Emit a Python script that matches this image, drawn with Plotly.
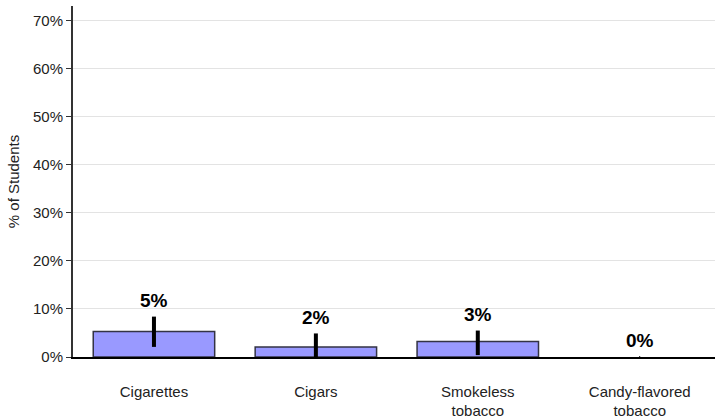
import plotly.graph_objects as go

categories = ['Cigarettes', 'Cigars', 'Smokeless<br>tobacco', 'Candy-flavored<br>tobacco']
values = [5.3, 2.1, 3.2, 0.0]
err_upper = [3.1, 2.8, 2.3, 0.2]
err_lower = [3.2, 2.1, 2.8, 0.2]
labels = ['5%', '2%', '3%', '0%']
y_ticks = [0, 10, 20, 30, 40, 50, 60, 70]
y_tick_text = ['0%', '10%', '20%', '30%', '40%', '50%', '60%', '70%']

font_family = 'Liberation Sans, Arial, sans-serif'

fig = go.Figure()
# one trace per bar so the empty bar can get a thin error mark and no outline
for i in range(len(categories)):
    empty = values[i] == 0
    fig.add_trace(go.Bar(
        x=[i],
        y=[values[i]],
        width=0.75,
        marker=dict(color='#9999ff', line=dict(color='#333344', width=0 if empty else 1.5)),
        error_y=dict(type='data', symmetric=False, array=[err_upper[i]], arrayminus=[err_lower[i]],
                     color='black', thickness=1 if empty else 4, width=0),
        hoverinfo='skip',
    ))

# percentage labels sit just above the top of each error bar
for i, lab in enumerate(labels):
    fig.add_annotation(x=i, y=values[i] + err_upper[i], text='<b>' + lab + '</b>',
                       showarrow=False, yshift=16,
                       font=dict(size=19, color='black', family=font_family))

fig.update_layout(
    width=715, height=419,
    plot_bgcolor='white',
    paper_bgcolor='white',
    margin=dict(t=6, b=62, l=73, r=0),
    showlegend=False,
    barmode='overlay',
    font=dict(family=font_family, size=15, color='#222'),
)
fig.update_xaxes(
    range=[-0.5, 3.465],
    tickvals=list(range(len(categories))),
    ticktext=categories,
    showline=True, linecolor='black', linewidth=1.5,
    showgrid=False, ticks='',
    ticklabelstandoff=20,
    tickfont=dict(size=15, color='#222'),
)
fig.update_yaxes(
    range=[0, 73],
    tickvals=y_ticks,
    ticktext=y_tick_text,
    showline=True, linecolor='#333', linewidth=2,
    showgrid=True, gridcolor='#e3e3e3', gridwidth=1,
    ticks='outside', ticklen=5, tickcolor='#333',
    zeroline=False,
    title=dict(text='% of Students', font=dict(size=15, color='#222'), standoff=10),
    tickfont=dict(size=15, color='#222'),
)

# drop the default page margin so the figure sits at the window corner
fig.write_html('out.html', config={'displayModeBar': False},
               post_script="document.body.style.margin='0';")
